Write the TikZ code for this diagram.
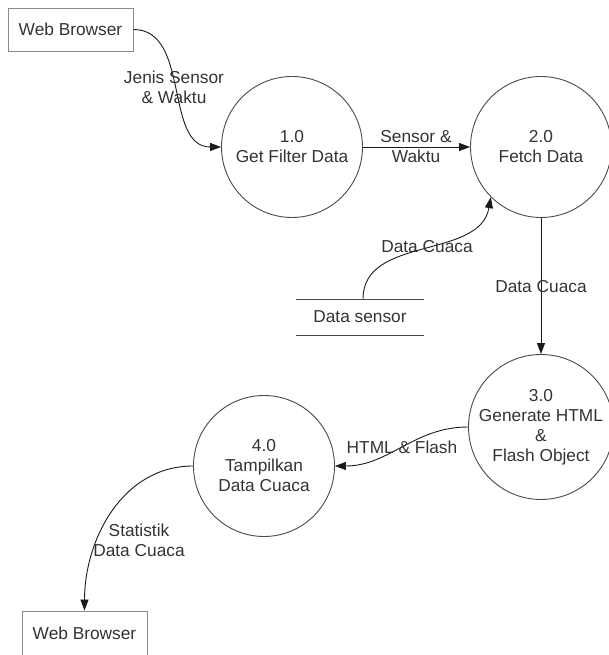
\documentclass[tikz,border=0pt]{standalone}
\usepackage{fontspec}
\setmainfont{Liberation Sans}
\usetikzlibrary{arrows.meta}
\definecolor{txt}{HTML}{333333}
\definecolor{boxline}{HTML}{8A8A8A}
\definecolor{circline}{HTML}{4A4A4A}
\definecolor{flowline}{HTML}{1A1A1A}
\tikzset{
  every node/.style={font=\fontsize{17.3}{20}\selectfont, text=txt},
  proc/.style={circle, draw=circline, line width=0.9pt, minimum size=141pt, inner sep=0pt, align=center},
  ext/.style={rectangle, draw=boxline, line width=0.9pt, minimum width=125pt, minimum height=43pt, inner sep=0pt},
  flow/.style={draw=flowline, line width=0.9pt, -{Triangle[length=11pt,width=8pt]}},
  lbl/.style={align=center, inner sep=0pt},
  storeline/.style={draw=circline, line width=0.9pt}
}
\begin{document}
\begin{tikzpicture}[x=1pt,y=1pt]
\useasboundingbox (0,0) rectangle (608,655);
% external entities
\node[ext] (wb1) at (70.5,625.5) {Web Browser};
\node[ext, minimum height=45pt] (wb2) at (84.5,21.5) {};
\node[inner sep=0pt] (wb2t) at (84.5,22) {Web Browser};
% processes
\node[proc] (p1) at (292,508) {1.0\\Get Filter Data};
\node[proc] (p2) at (541,508) {2.0\\Fetch Data};
\node[proc] (p3) at (541,228) {3.0\\Generate HTML\\\&\\Flash Object};
\node[proc] (p4) at (264,189) {4.0\\Tampilkan\\Data Cuaca};
% data store
\coordinate (sL1) at (296,356);
\coordinate (sR1) at (424,356);
\coordinate (sL2) at (296,320);
\coordinate (sR2) at (424,320);
\draw[storeline] (sL1) -- (sR1);
\draw[storeline] (sL2) -- (sR2);
\node[inner sep=0pt] (ds) at (360,338) {Data sensor};
\coordinate (dsTop) at (363,356);
% flows
\draw[flow] (wb1.east) to[out=0,in=180] (p1.west);
\draw[flow] (p1.east) -- (p2.west);
\draw[flow] (dsTop) to[out=90,in=-100] (p2.225);
\draw[flow] (p2.south) -- (p3.north);
\draw[flow] (p3.west) to[out=180,in=0] (p4.east);
\draw[flow] (p4.west) to[out=180,in=90] (wb2.north);
% labels
\node[lbl] (l1) at (174,568) {Jenis Sensor\\\& Waktu};
\node[lbl] (l2) at (416,508) {Sensor \&\\Waktu};
\node[lbl] (l3) at (427,408) {Data Cuaca};
\node[lbl] (l4) at (541,368) {Data Cuaca};
\node[lbl] (l5) at (402,208) {HTML \& Flash};
\node[lbl] (l6) at (139,115) {Statistik\\Data Cuaca};
\end{tikzpicture}
\end{document}
